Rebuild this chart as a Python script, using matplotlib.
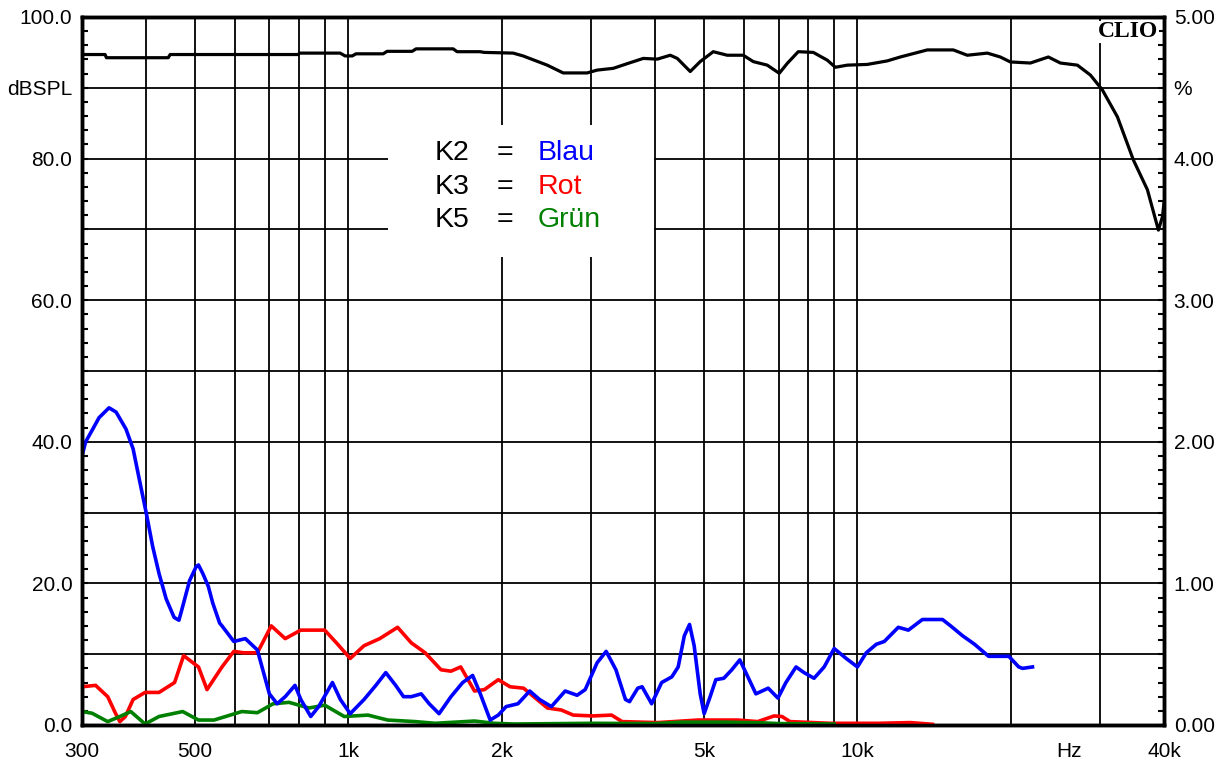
import matplotlib
matplotlib.use("Agg")
import matplotlib.pyplot as plt
from matplotlib.patches import Rectangle
import numpy as np

plt.rcParams['font.family'] = ['Liberation Sans', 'DejaVu Sans']

# SPL-Frequenzgang (linke Achse, dBSPL)
spl_f = [300, 333, 335, 443, 447, 797, 803, 964, 986, 1018, 1036, 1171, 1192, 1335,
         1359, 1607, 1636, 1815, 1849, 2108, 2205, 2459, 2643, 2946, 3082, 3315,
         3579, 3797, 4045, 4290, 4428, 4695, 4911, 5210, 5550, 5967, 6243, 6651,
         7022, 7281, 7652, 8191, 8726, 9048, 9552, 10455, 11445, 12137, 13716,
         15425, 16434, 17994, 19082, 19968, 21860, 23711, 25035, 27036, 28677,
         30270, 32400, 34830, 37110, 39000, 39720, 40000]
spl_db = [94.7, 94.7, 94.25, 94.25, 94.7, 94.7, 94.9, 94.9, 94.5, 94.5, 94.8, 94.8,
          95.15, 95.15, 95.5, 95.5, 95.1, 95.1, 95.0, 94.9, 94.5, 93.2, 92.1, 92.1,
          92.5, 92.75, 93.55, 94.15, 94.05, 94.6, 94.15, 92.3, 93.7, 95.1, 94.6,
          94.6, 93.7, 93.2, 92.05, 93.45, 95.1, 95.0, 93.9, 92.9, 93.2, 93.3, 93.8,
          94.35, 95.35, 95.35, 94.6, 94.9, 94.35, 93.65, 93.5, 94.35, 93.5, 93.2,
          91.8, 89.7, 85.9, 79.8, 75.6, 69.9, 71.8, 73.7]

# K2 (blau), in %
k2_f = [300, 305, 315, 324, 339, 350, 366, 378, 389, 401, 413, 425, 439, 455, 465,
        470, 488, 503, 508, 518, 531, 542, 559, 565, 596, 628, 663, 700, 725, 752,
        786, 807, 844, 875, 931, 965, 1009, 1074, 1133, 1185, 1239, 1284, 1330,
        1391, 1442, 1508, 1591, 1678, 1755, 1817, 1900, 1971, 2042, 2154, 2272,
        2375, 2506, 2667, 2815, 2920, 3082, 3210, 3355, 3503, 3568, 3703, 3777,
        3943, 4126, 4320, 4446, 4571, 4680, 4779, 4911, 5000, 5137, 5271, 5465,
        5665, 5875, 6093, 6318, 6680, 6980, 7236, 7576, 7855, 8218, 8603, 9001,
        9504, 10000, 10407, 10890, 11293, 12030, 12590, 13414, 14690, 15240,
        16090, 16985, 18100, 19830, 20740, 21100, 22070]
k2_pct = [1.90, 2.00, 2.09, 2.17, 2.24, 2.21, 2.09, 1.95, 1.73, 1.50, 1.26, 1.07,
          0.89, 0.76, 0.74, 0.80, 1.02, 1.12, 1.13, 1.07, 0.98, 0.86, 0.72, 0.70,
          0.59, 0.61, 0.53, 0.22, 0.15, 0.20, 0.28, 0.18, 0.06, 0.13, 0.30, 0.18,
          0.08, 0.18, 0.28, 0.37, 0.28, 0.20, 0.20, 0.22, 0.15, 0.08, 0.20, 0.30,
          0.35, 0.22, 0.035, 0.07, 0.13, 0.15, 0.24, 0.18, 0.13, 0.24, 0.21, 0.25,
          0.44, 0.52, 0.39, 0.18, 0.165, 0.26, 0.27, 0.15, 0.30, 0.34, 0.41, 0.63,
          0.71, 0.56, 0.22, 0.08, 0.20, 0.32, 0.33, 0.39, 0.46, 0.34, 0.22, 0.26,
          0.19, 0.30, 0.41, 0.37, 0.33, 0.41, 0.54, 0.47, 0.41, 0.51, 0.57, 0.59,
          0.69, 0.67, 0.745, 0.745, 0.70, 0.63, 0.57, 0.485, 0.485, 0.41, 0.40, 0.41]

# K3 (rot), in %
k3_f = [300, 319, 337, 349, 356, 365, 378, 399, 425, 456, 475, 508, 528, 565, 596,
        623, 663, 706, 752, 807, 867, 899, 948, 1009, 1074, 1153, 1250, 1330, 1416,
        1521, 1591, 1663, 1770, 1851, 1971, 2079, 2210, 2313, 2461, 2620, 2766,
        3024, 3290, 3450, 4050, 4860, 5820, 6370, 6860, 7110, 7370, 8840, 11000,
        12700, 14040]
k3_pct = [0.27, 0.28, 0.20, 0.083, 0.024, 0.06, 0.18, 0.23, 0.23, 0.30, 0.49, 0.41,
          0.25, 0.41, 0.52, 0.51, 0.51, 0.70, 0.61, 0.67, 0.67, 0.67, 0.58, 0.47,
          0.56, 0.61, 0.69, 0.58, 0.51, 0.39, 0.38, 0.41, 0.24, 0.25, 0.32, 0.27,
          0.26, 0.20, 0.12, 0.106, 0.07, 0.064, 0.07, 0.024, 0.017, 0.035, 0.035,
          0.024, 0.064, 0.06, 0.024, 0.012, 0.012, 0.017, 0.005]

# K5 (gruen), in %
k5_f = [300, 314, 337, 356, 374, 399, 425, 473, 508, 545, 618, 663, 712, 765, 837,
        899, 982, 1093, 1195, 1354, 1481, 1770, 1935, 2115, 3024, 4000, 4500, 5500,
        6500, 7000, 9000]
k5_pct = [0.095, 0.083, 0.024, 0.06, 0.095, 0.007, 0.06, 0.095, 0.035, 0.035,
          0.095, 0.087, 0.15, 0.16, 0.12, 0.14, 0.06, 0.07, 0.035, 0.024, 0.012,
          0.028, 0.012, 0.007, 0.012, 0.01, 0.02, 0.02, 0.015, 0.01, 0.007]

grid_f = [400, 500, 600, 700, 800, 900, 1000, 2000, 3000, 4000, 5000, 6000, 7000,
          8000, 9000, 10000, 20000, 30000]
xlab_f = [300, 500, 1000, 2000, 5000, 10000, 26000, 40000]
xlab = ['300', '500', '1k', '2k', '5k', '10k', 'Hz', '40k']
left_ticks = [0, 10, 20, 30, 40, 50, 60, 70, 80, 90, 100]
left_lab = ['0.0', '', '20.0', '', '40.0', '', '60.0', '', '80.0', 'dBSPL', '100.0']
right_ticks = [0, 0.5, 1, 1.5, 2, 2.5, 3, 3.5, 4, 4.5, 5]
right_lab = ['0.00', '', '1.00', '', '2.00', '', '3.00', '', '4.00', '%', '5.00']

fig = plt.figure(figsize=(12.26, 7.72), dpi=100)
ax = fig.add_axes([82/1226, 47/772, 1082/1226, 708/772])
ax.set_xscale('log')
ax.set_xlim(300, 40000)
ax.set_ylim(0, 100)

ax.set_xticks(xlab_f)
ax.set_xticklabels(xlab, fontsize=15)
ax.set_xticks(grid_f, minor=True)
ax.xaxis.set_minor_formatter(matplotlib.ticker.NullFormatter())
ax.tick_params(axis='x', which='both', length=0, pad=12)
for f in grid_f:
    ax.axvline(f, color='black', lw=1.3, zorder=1)
for v in left_ticks[1:-1]:
    ax.axhline(v, color='black', lw=1.3, zorder=1)

ax.set_yticks(left_ticks)
ax.set_yticklabels(left_lab, fontsize=15)
ax.set_yticks(np.arange(0, 101, 2), minor=True)
ax.tick_params(axis='y', which='both', direction='in', length=4, width=1.5, pad=7)

for s in ax.spines.values():
    s.set_linewidth(2.5)

# Legende als weisse Box
ax.add_patch(Rectangle((0.2828, 0.661), 0.2459, 0.1865, transform=ax.transAxes,
                       facecolor='white', edgecolor='none', zorder=2))
rows = [('K2', 'Blau', '#0000ff'), ('K3', 'Rot', '#ff0000'), ('K5', 'Grün', '#008000')]
for i, (k, name, col) in enumerate(rows):
    yy = 0.808 - i*0.0475
    ax.text(0.326, yy, k, transform=ax.transAxes, fontsize=20.5, va='center', zorder=3)
    ax.text(0.391, yy, '=', transform=ax.transAxes, fontsize=20.5, va='center',
            ha='center', zorder=3)
    ax.text(0.4214, yy, name, transform=ax.transAxes, fontsize=20.5, va='center',
            color=col, zorder=3)

ax.plot(spl_f, spl_db, color='black', lw=2.3, zorder=4)

ax2 = ax.twinx()
ax2.set_ylim(0, 5)
ax2.set_yticks(right_ticks)
ax2.set_yticklabels(right_lab, fontsize=15)
ax2.set_yticks(np.arange(0, 5.01, 0.1), minor=True)
ax2.tick_params(axis='y', which='both', direction='in', length=4, width=1.5, pad=7)
for s in ax2.spines.values():
    s.set_linewidth(2.5)

ax2.plot(k3_f, k3_pct, color='#ff0000', lw=2.6)
ax2.plot(k5_f, k5_pct, color='#008000', lw=2.6)
ax2.plot(k2_f, k2_pct, color='#0000ff', lw=2.6)

ax2.text(0.9945, 0.979, 'CLIO', transform=ax2.transAxes, ha='right', va='center',
         fontsize=17, fontweight='bold', family='Liberation Serif', zorder=5,
         bbox=dict(facecolor='white', edgecolor='none', pad=0.5))

fig.savefig('out.png', dpi=100)
